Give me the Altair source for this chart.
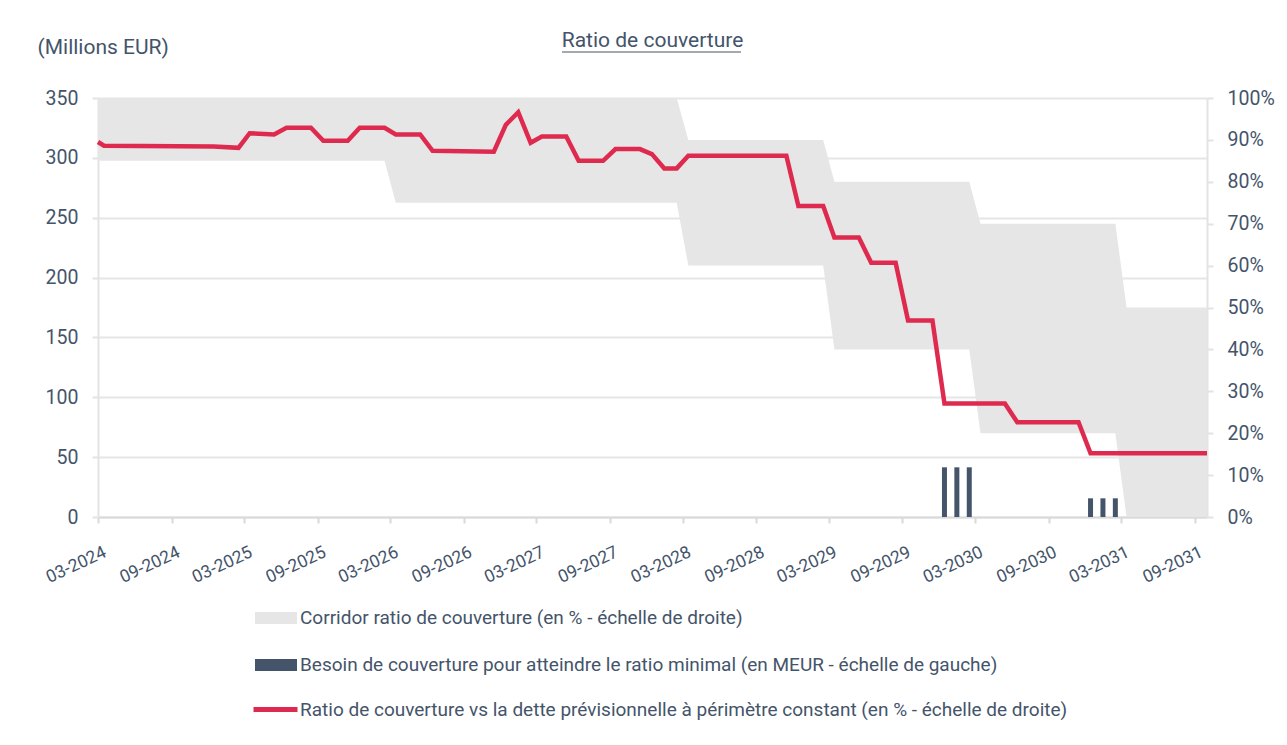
import altair as alt
import pandas as pd

# ---------------- data ----------------
CORR_LABEL = "Corridor ratio de couverture (en % - échelle de droite)"
BAR_LABEL = "Besoin de couverture pour atteindre le ratio minimal (en MEUR - échelle de gauche)"
LINE_LABEL = "Ratio de couverture vs la dette prévisionnelle à périmètre constant (en % - échelle de droite)"

# coverage ratio (right scale, %)
line_dates = [
    "2024-03-01", "2024-03-16", "2024-12-15", "2025-02-15", "2025-03-15",
    "2025-05-15", "2025-06-15", "2025-08-15", "2025-09-15", "2025-11-15",
    "2025-12-15", "2026-02-15", "2026-03-15", "2026-05-15", "2026-06-15",
    "2026-11-15", "2026-12-15", "2027-01-15", "2027-02-15", "2027-03-15",
    "2027-05-15", "2027-06-15", "2027-08-15", "2027-09-15", "2027-11-15",
    "2027-12-15", "2028-01-15", "2028-02-15", "2028-03-15", "2028-11-15",
    "2028-12-15", "2029-02-15", "2029-03-15", "2029-05-15", "2029-06-15",
    "2029-08-15", "2029-09-15", "2029-11-15", "2029-12-15", "2030-05-15",
    "2030-06-15", "2030-11-15", "2030-12-15", "2031-10-02",
]
line_values = [
    89.5, 88.6, 88.4, 88.1, 91.6,
    91.3, 92.9, 92.9, 89.8, 89.8,
    92.9, 92.9, 91.3, 91.3, 87.4,
    87.2, 93.6, 96.6, 89.3, 90.8,
    90.8, 85.0, 85.0, 87.8, 87.8,
    86.6, 83.2, 83.2, 86.2, 86.2,
    74.2, 74.2, 66.7, 66.7, 60.7,
    60.7, 46.9, 46.9, 27.1, 27.1,
    22.6, 22.6, 15.2, 15.2,
]

# corridor (right scale, %)
corr_dates = [
    "2024-03-01", "2026-02-15", "2026-03-15", "2028-02-15", "2028-03-15",
    "2029-02-15", "2029-03-15", "2030-02-15", "2030-03-15", "2031-02-15",
    "2031-03-15", "2031-10-02",
]
corr_upper = [100, 100, 100, 100, 90, 90, 80, 80, 70, 70, 50, 50]
corr_lower = [85, 85, 75, 75, 60, 60, 40, 40, 20, 20, 0, 0]

# hedging need (left scale, MEUR)
bar_dates = ["2029-12-15", "2030-01-15", "2030-02-15", "2030-12-15", "2031-01-15", "2031-02-15"]
bar_values = [41.5, 41.5, 41.5, 15.6, 15.6, 15.6]

# axis ticks
tick_years_months = [
    (2024, 3), (2024, 9), (2025, 3), (2025, 9), (2026, 3), (2026, 9),
    (2027, 3), (2027, 9), (2028, 3), (2028, 9), (2029, 3), (2029, 9),
    (2030, 3), (2030, 9), (2031, 3), (2031, 9),
]
left_ticks = [0, 50, 100, 150, 200, 250, 300, 350]
right_ticks = [0, 10, 20, 30, 40, 50, 60, 70, 80, 90, 100]

# ---------------- style ----------------
TEXT = "#44546A"
RED = "#DF2A4F"
GRAY = "#E7E6E6"
SLATE = "#44546A"
FONT = "Roboto"

df_line = pd.DataFrame({"date": line_dates, "value": line_values, "series": LINE_LABEL})
df_corr = pd.DataFrame({"date": corr_dates, "upper": corr_upper, "lower": corr_lower, "series": CORR_LABEL})
df_bar = pd.DataFrame({"date": bar_dates, "value": bar_values, "series": BAR_LABEL})

x_enc = alt.X(
    "date:T",
    scale=alt.Scale(
        type="utc",
        domain=[alt.DateTime(year=2024, month=3, date=1, utc=True),
                alt.DateTime(year=2031, month=10, date=2, utc=True)],
        nice=False, padding=0,
    ),
    axis=alt.Axis(
        values=[alt.DateTime(year=y, month=m, date=1, utc=True) for y, m in tick_years_months],
        labelExpr="utcFormat(datum.value, '%m-%Y')", labelAngle=335, labelAlign="right",
        labelBaseline="top", labelPadding=20, labelOffset=3, labelOverlap=False,
        labelFontSize=17.5, labelFont=FONT, labelColor=TEXT, tickSize=6,
        tickColor="#D9D9D9", tickWidth=2, domainColor="#D9D9D9", domainWidth=2,
        grid=False, title=None,
    ),
)

fill_scale = alt.Scale(domain=[CORR_LABEL, BAR_LABEL], range=[GRAY, SLATE])
fill_legend = alt.Legend(
    orient="none", legendX=157, legendY=499, direction="vertical", title=None,
    symbolType="M-1,-0.286H1V0.286H-1Z", symbolSize=1764, symbolStrokeWidth=0,
    labelFont=FONT, labelFontSize=19, labelColor=TEXT, labelLimit=1200,
    labelOffset=3, rowPadding=16, padding=0,
)

bars = alt.Chart(df_bar).mark_bar(width=5).encode(
    x=x_enc,
    y=alt.Y(
        "value:Q",
        scale=alt.Scale(domain=[0, 350], nice=False),
        axis=alt.Axis(
            values=left_ticks, orient="left", grid=True, gridColor="#E6E6E6", gridWidth=2,
            domainColor="#E3E3E3", domainWidth=2, tickColor="#E3E3E3", tickWidth=2, tickSize=6,
            labelPadding=14, labelFontSize=19.5, labelFont=FONT, labelColor=TEXT,
            title="(Millions EUR)", titleAngle=0, titleX=-61, titleY=-51, titleAlign="left",
            titleBaseline="middle", titleFontSize=21, titleFontWeight="normal",
            titleFont=FONT, titleColor=TEXT,
        ),
    ),
    fill=alt.Fill("series:N", scale=fill_scale, legend=fill_legend),
)

area = alt.Chart(df_corr).mark_area(interpolate="linear").encode(
    x=x_enc,
    y=alt.Y(
        "upper:Q",
        scale=alt.Scale(domain=[0, 100], nice=False),
        axis=alt.Axis(
            values=right_ticks, orient="right", grid=False, labelExpr="datum.value + '%'",
            domainColor="#E3E3E3", domainWidth=2, tickColor="#E3E3E3", tickWidth=2, tickSize=6,
            labelPadding=14, labelFontSize=19.5, labelFont=FONT, labelColor=TEXT, title=None,
        ),
    ),
    y2="lower:Q",
    fill=alt.Fill("series:N", scale=fill_scale, legend=fill_legend),
)

line = alt.Chart(df_line).mark_line(strokeWidth=4.5).encode(
    x=x_enc,
    y=alt.Y("value:Q"),
    stroke=alt.Stroke(
        "series:N",
        scale=alt.Scale(domain=[LINE_LABEL], range=[RED]),
        legend=alt.Legend(
            orient="none", legendX=153, legendY=587, title=None, symbolType="stroke",
            symbolSize=1936, symbolStrokeWidth=5, labelFont=FONT, labelFontSize=19,
            labelColor=TEXT, labelLimit=1200, labelOffset=0, padding=0,
        ),
    ),
)

underline = alt.Chart(pd.DataFrame({"k": [0]})).mark_rule(color=TEXT, strokeWidth=1).encode(
    x=alt.value(464), x2=alt.value(643), y=alt.value(-46)
)

chart = alt.layer(bars, alt.layer(area, line), underline).resolve_scale(
    y="independent"
).properties(
    width=1109,
    height=419,
    autosize=alt.AutoSizeParams(type="none"),
    padding={"left": 90, "top": 90, "right": 72, "bottom": 220},
    background="white",
    title=alt.TitleParams(
        "Ratio de couverture", anchor="middle", fontSize=21, font=FONT,
        fontWeight="normal", color=TEXT, offset=0, baseline="alphabetic", dy=32,
    ),
).configure_view(stroke=None)

chart.save("out.html", embed_options={"renderer": "svg", "actions": False})
